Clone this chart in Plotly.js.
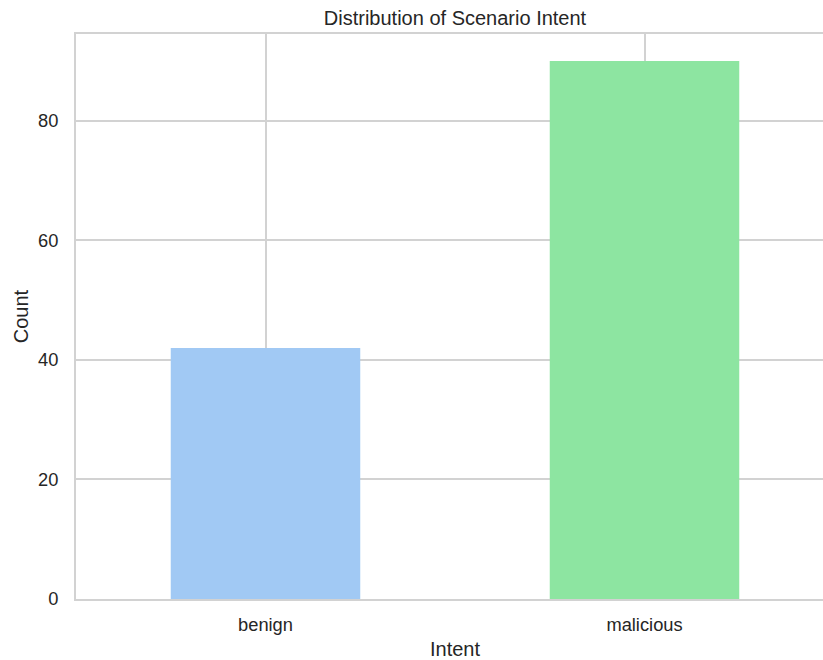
<!DOCTYPE html>
<html>
<head>
<meta charset="utf-8">
<script src="https://cdn.plot.ly/plotly-3.0.1.min.js"></script>
<style>
html, body { margin: 0; padding: 0; overflow: hidden; background: #ffffff; }
#chart { width: 834px; height: 660px; }
</style>
</head>
<body>
<div id="chart"></div>
<script>
const categories = ["benign", "malicious"];
const counts = [42, 90];
const barColors = ["#a1c9f4", "#8de5a1"];
const yTicks = [0, 20, 40, 60, 80];

const textColor = "#262626";
const gridColor = "#d2d2d2";
const fontFamily = "'Liberation Sans', Arial, sans-serif";

const trace = {
  type: "bar",
  x: categories,
  y: counts,
  width: 0.5,
  marker: { color: barColors, line: { width: 0 } },
  hoverinfo: "x+y"
};

const layout = {
  width: 834,
  height: 660,
  margin: { l: 76, r: 0, t: 34, b: 61, pad: 0 },
  paper_bgcolor: "#ffffff",
  plot_bgcolor: "#ffffff",
  font: { family: fontFamily, color: textColor, size: 18.3 },
  showlegend: false,
  title: {
    text: "Distribution of Scenario Intent",
    font: { size: 20, color: textColor, family: fontFamily },
    x: 0.5, xref: "paper", xanchor: "center",
    y: 1, yref: "paper", yanchor: "bottom",
    pad: { b: 9 }
  },
  xaxis: {
    type: "category",
    range: [-0.5, 1.5],
    showgrid: true,
    gridcolor: gridColor,
    gridwidth: 2,
    showline: true,
    linecolor: gridColor,
    linewidth: 2,
    mirror: true,
    ticks: "outside",
    ticklen: 8,
    tickcolor: "rgba(0,0,0,0)",
    tickfont: { size: 18.3, color: textColor, family: fontFamily },
    title: { text: "Intent", font: { size: 20, color: textColor, family: fontFamily }, standoff: 8 },
    automargin: false,
    fixedrange: true
  },
  yaxis: {
    range: [0, 94.5],
    tickvals: yTicks,
    ticktext: yTicks.map(String),
    showgrid: true,
    gridcolor: gridColor,
    gridwidth: 2,
    zeroline: false,
    showline: true,
    linecolor: gridColor,
    linewidth: 2,
    ticks: "outside",
    ticklen: 12,
    tickcolor: "rgba(0,0,0,0)",
    tickfont: { size: 18.3, color: textColor, family: fontFamily },
    title: { text: "Count", font: { size: 20, color: textColor, family: fontFamily }, standoff: 4 },
    automargin: false,
    fixedrange: true
  }
};

Plotly.newPlot("chart", [trace], layout, { displayModeBar: false, staticPlot: true });
</script>
</body>
</html>
